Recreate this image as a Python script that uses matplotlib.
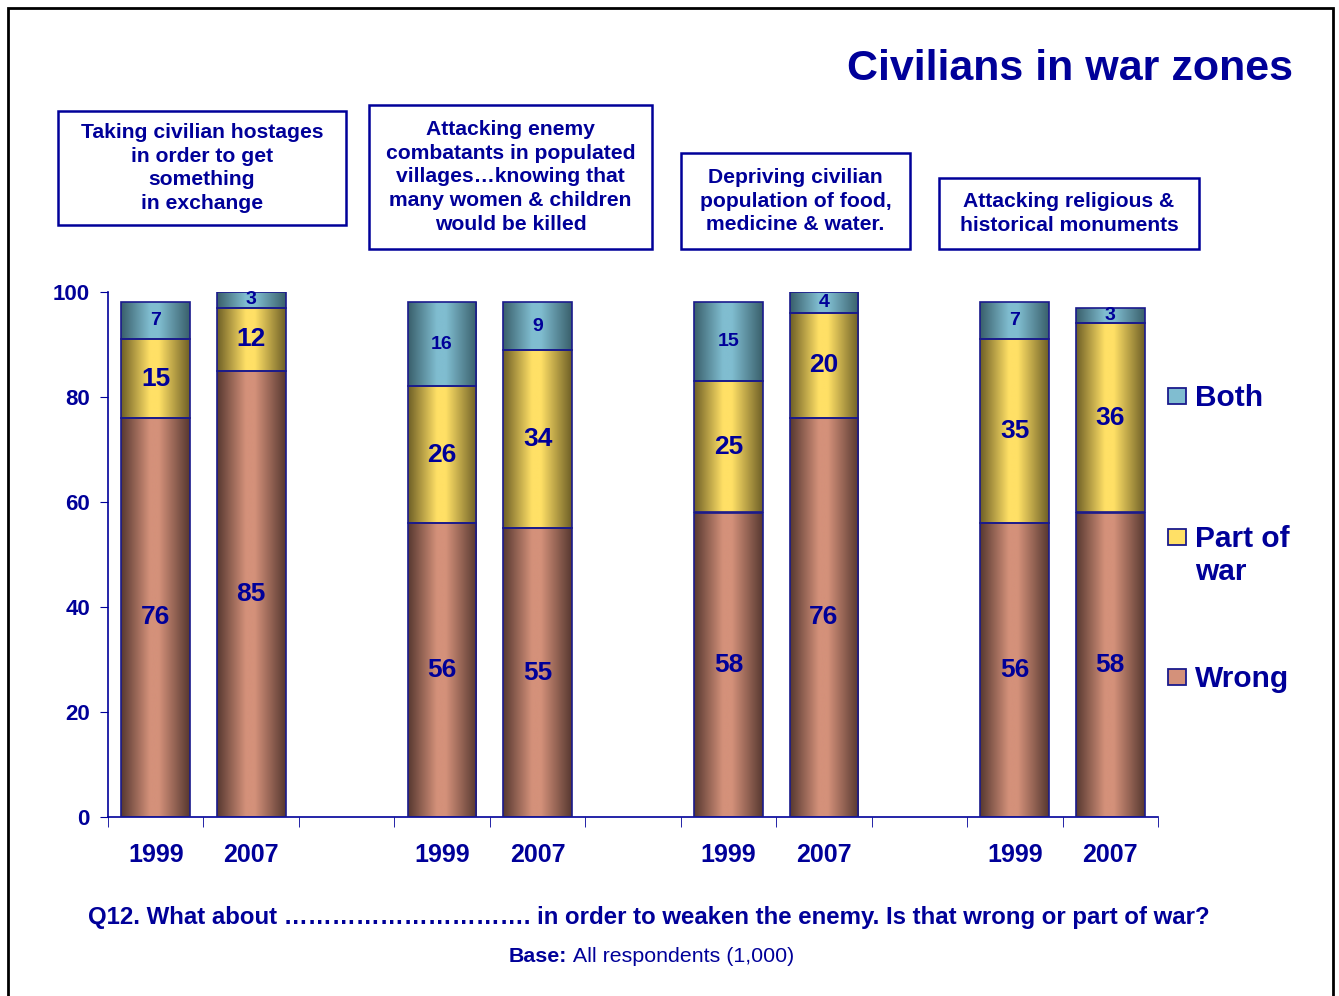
import numpy as np
import matplotlib
matplotlib.use("Agg")
import matplotlib.pyplot as plt
from matplotlib.colors import LinearSegmentedColormap
from matplotlib.patches import Rectangle

# ---- data -------------------------------------------------------------
topics = [
    "Taking civilian hostages\nin order to get\nsomething\nin exchange",
    "Attacking enemy\ncombatants in populated\nvillages\u2026knowing that\nmany women & children\nwould be killed",
    "Depriving civilian\npopulation of food,\nmedicine & water.",
    "Attacking religious &\nhistorical monuments",
]
years = ["1999", "2007"]
series = ["Wrong", "Part of\nwar", "Both"]
wrong = [76, 85, 56, 55, 58, 76, 56, 58]
part_of_war = [15, 12, 26, 34, 25, 20, 35, 36]
both = [7, 3, 16, 9, 15, 4, 7, 3]

NAVY = "#000099"
FONT = "Liberation Sans"
plt.rcParams["font.family"] = [FONT, "DejaVu Sans"]

# (edge, centre) colours for the cylinder shading
shades = {
    "Wrong": ("#573830", "#d4917a"),
    "Part of\nwar": ("#6e5f26", "#ffe066"),
    "Both": ("#395f6b", "#80bdd0"),
}


def cyl_cmap(edge, mid):
    return LinearSegmentedColormap.from_list(
        "c", [(0, edge), (0.42, mid), (0.55, mid), (1, edge)])


fig = plt.figure(figsize=(13.39, 9.96), dpi=100)
ax = fig.add_axes([108 / 1339, 1 - 817 / 996, 1050 / 1339, 525 / 996])

# bar slots: 2 bars per topic + one empty slot between topics
xpos = []
for g in range(len(topics)):
    xpos += [g * 3, g * 3 + 1]
xpos = np.array(xpos, dtype=float)

grad = np.linspace(0, 1, 256).reshape(1, -1)
bottom = np.zeros(len(xpos))
for name, vals in zip(series, [wrong, part_of_war, both]):
    vals = np.array(vals, dtype=float)
    bars = ax.bar(xpos, vals, bottom=bottom, width=0.72, color="none",
                  edgecolor="#1a1a8c", linewidth=1.2, zorder=3)
    cm = cyl_cmap(*shades[name])
    for b in bars:
        x0, y0 = b.get_x(), b.get_y()
        im = ax.imshow(grad, extent=[x0, x0 + b.get_width(), y0, y0 + b.get_height()],
                       aspect="auto", cmap=cm, zorder=2, interpolation="bilinear")
        im.set_clip_path(b)
    small = name == "Both"
    for x, b0, v in zip(xpos, bottom, vals):
        ax.text(x, b0 + v / 2, f"{v:.0f}", ha="center", va="center",
                color=NAVY, fontweight="bold", fontsize=14 if small else 19,
                zorder=4)
    bottom += vals

ax.set_xlim(-0.5, 10.5)
ax.set_ylim(0, 100)
ax.set_aspect("auto")
ax.set_yticks(range(0, 101, 20))
ax.set_xticks(xpos)
ax.set_xticklabels(years * len(topics))
ax.set_xticks(np.arange(-0.5, 11, 1.0), minor=True)
ax.tick_params(axis="x", which="major", length=0, pad=19, labelsize=18,
               labelcolor=NAVY)
ax.tick_params(axis="x", which="minor", length=7, direction="out", color=NAVY)
ax.tick_params(axis="y", length=6, direction="out", color=NAVY, labelsize=16,
               labelcolor=NAVY, pad=7)
for lab in ax.get_xticklabels() + ax.get_yticklabels():
    lab.set_fontweight("bold")
for s in ["top", "right"]:
    ax.spines[s].set_visible(False)
for s in ["left", "bottom"]:
    ax.spines[s].set_color(NAVY)
    ax.spines[s].set_linewidth(1.2)

# topic boxes above each pair of bars (pixel boxes: x0, y0, x1, y1)
boxes = [(58, 111, 346, 225), (369, 105, 652, 249),
         (681, 153, 910, 249), (939, 178, 1199, 249)]
for txt, (x0, y0, x1, y1) in zip(topics, boxes):
    fig.patches.append(Rectangle((x0 / 1339, 1 - y1 / 996), (x1 - x0) / 1339,
                                 (y1 - y0) / 996, transform=fig.transFigure,
                                 fill=False, edgecolor=NAVY, linewidth=1.8))
    fig.text((x0 + x1) / 2 / 1339, 1 - (y0 + y1) / 2 / 996, txt, ha="center",
             va="center", color=NAVY, fontweight="bold", fontsize=15.2,
             linespacing=1.33)

fig.text(1293 / 1339, 1 - 69 / 996, "Civilians in war zones", ha="right",
         va="center", color=NAVY, fontweight="bold", fontsize=31)

# legend
leg_y = {"Both": 396, "Part of\nwar": 537, "Wrong": 677}
for name in series:
    y = leg_y[name]
    edge, mid = shades[name]
    fig.patches.append(Rectangle((1168 / 1339, 1 - (y + 8) / 996), 18 / 1339,
                                 16 / 996, transform=fig.transFigure,
                                 facecolor=mid, edgecolor="#1a1a8c", linewidth=1.3))
    fig.text(1195 / 1339, 1 - (y - 12) / 996, name, ha="left", va="top",
             color=NAVY, fontweight="bold", fontsize=21.5, linespacing=1.22)

fig.text(88 / 1339, 1 - 917 / 996,
         "Q12. What about \u2026\u2026\u2026\u2026\u2026\u2026\u2026\u2026\u2026\u2026. in order to weaken "
         "the enemy. Is that wrong or part of war?",
         ha="left", va="center", color=NAVY, fontweight="bold", fontsize=17.3)
fig.text(567 / 1339, 1 - 956 / 996, "Base:", ha="right", va="center",
         color=NAVY, fontweight="bold", fontsize=15.4)
fig.text(568 / 1339, 1 - 956 / 996, " All respondents (1,000)", ha="left",
         va="center", color=NAVY, fontsize=15.4)

# outer frame
fig.patches.append(Rectangle((8 / 1339, -0.01), 1325 / 1339, 1 - 8 / 996 + 0.01,
                             transform=fig.transFigure, fill=False,
                             edgecolor="black", linewidth=2))

fig.savefig("out.png", dpi=100)
